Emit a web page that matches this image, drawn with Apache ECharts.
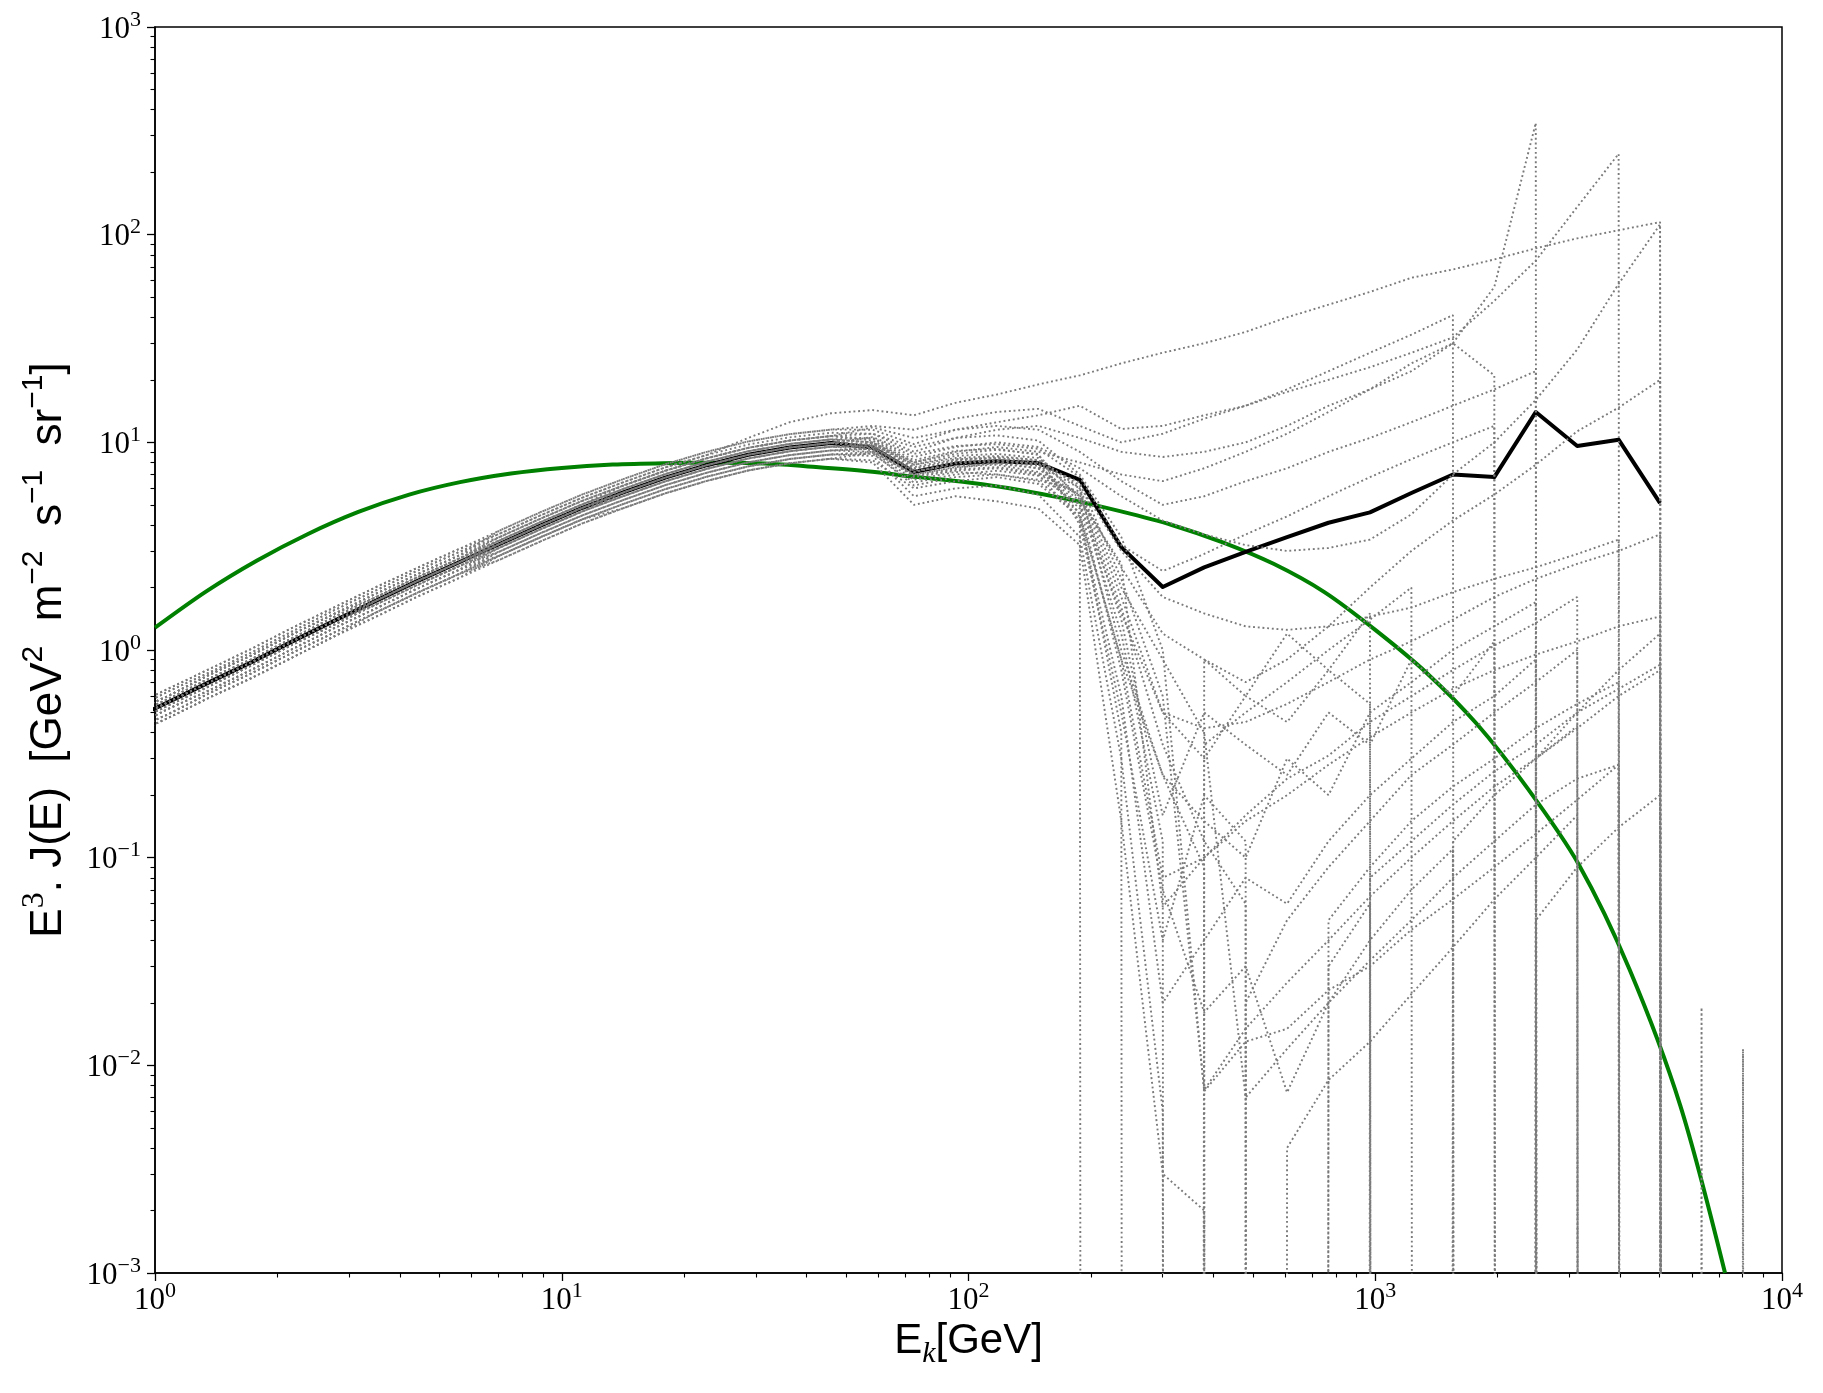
<!DOCTYPE html>
<html>
<head>
<meta charset="utf-8">
<title>E3 J(E) spectrum</title>
<script src="https://cdn.jsdelivr.net/npm/echarts@6/dist/echarts.min.js"></script>
<style>
  html, body { margin: 0; padding: 0; background: #fff; }
  #main { width: 1823px; height: 1393px; }
</style>
</head>
<body>
<div id="main"></div>
<script>
// energy grid of the realisations [GeV]
var energy = [0.851, 1.076, 1.361, 1.721, 2.176, 2.751, 3.478, 4.398, 5.561, 7.033,
  8.892, 11.24, 14.22, 17.97, 22.73, 28.74, 36.33, 45.94, 58.09, 73.45,
  92.90, 117.5, 148.5, 187.8, 237.5, 300.3, 379.7, 480.1, 607.0, 767.5,
  970.5, 1227, 1552, 1962, 2481, 3137, 3966, 5015, 6342, 8019, 10139];

// single realisations (0 = no flux in that bin)
var run01 = [0.50,0.63,0.78,0.97,1.23,1.55,1.93,2.40,2.95,3.63,4.46,5.42,6.44,7.57,8.69,10.5,12.5,13.8, 14.3,13.5,15.5,17,19,21, 24,27,30,34,40,46,53,62,68,76,86,96,105,115,0,0,0];
var run02 = [0.52,0.65,0.81,1.01,1.28,1.60,2.00,2.48,3.05,3.76,4.62,5.61,6.67,7.84,9.0,10.1,10.95,11.52, 11.5,9.8,11.5,12.5,13.5,15, 11.6,12,13.5,15,17.5,20,23,27,32,48,75,136,245,0,0,0,0];
var run03 = [0.49,0.60,0.76,0.94,1.19,1.49,1.86,2.31,2.84,3.50,4.30,5.23,6.21,7.30,8.38,9.41,10.2,10.72, 11,9,10.5,11.5,12,10.5, 9,8.5,9,10,12,15,18,22,30,56,345,0,0,0,0,0,0];
var run04 = [0.47,0.58,0.73,0.90,1.14,1.44,1.79,2.23,2.74,3.37,4.14,5.03,5.98,7.03,8.07,9.06,9.82,10.33, 10.5,8.5,9.5,10,9.5,7.5, 5.5,4.2,3.6,3.2,3.0,3.1,3.4,4.5,7,10,16,28,58,112,0,0,0];
var run05 = [0.43,0.54,0.67,0.84,1.06,1.32,1.65,2.05,2.52,3.11,3.82,4.65,5.52,6.49,7.45,8.36,9.06,9.53, 9.2,7,7.5,8,7.5,5.5, 2.5,1.2,0.9,0.7,0.9,1.3,2,3,4.2,5.6,7.8,11.3,14.7,20,0,0,0];
var run06 = [0.49,0.60,0.76,0.94,1.19,1.49,1.86,2.31,2.84,3.76,4.62,5.61,6.67,7.84,9.0,10.1,10.95,11.52, 12,11.5,13,14,14.5,12, 10,11,13,15,18,22,27,33,41,0,0,0,0,0,0,0,0];
var run07 = [0.45,0.56,0.70,0.87,1.10,1.38,1.72,2.14,2.63,3.37,4.14,5.03,5.98,7.03,8.07,9.06,9.82,10.33, 10,8,9,9.5,9,8, 7,6.5,7.5,9,11,14,18,24,30,21,0,0,0,0,0,0,0];
var run08 = [0.41,0.52,0.64,0.80,1.01,1.27,1.58,1.97,2.42,2.98,3.66,4.45,5.29,6.22,7.14,8.01,8.68,9.14, 9.4,7.4,8.2,8.5,8.2,6.2, 3.0,1.8,1.5,1.3,1.25,1.3,1.45,1.6,1.9,2.2,2.5,2.9,3.4,0,0,0,0];
var run09 = [0.40,0.49,0.62,0.77,0.97,1.21,1.51,1.88,2.31,2.85,3.50,4.26,5.06,5.95,6.83,7.66,8.31,8.74, 8.8,6.4,7.0,7.3,6.9,5.0, 1.5,0.5,0.42,0.45,0.55,0.7,0.9,1.1,1.4,1.8,2.2,2.6,3.0,3.6,0,0,0];
var run10 = [0.38,0.47,0.59,0.73,0.92,1.16,1.44,1.80,2.21,2.72,3.34,4.07,4.83,5.68,6.52,7.32,7.93,8.34, 8.2,6.0,6.5,6.8,6.3,4.4, 0.9,0.08,0.1,0.15,0.2,0.28,0.38,0.5,0.65,0.8,0.95,1.1,1.3,1.45,0,0,0];
var run11 = [0.41,0.52,0.64,0.80,1.01,1.27,1.58,1.97,2.42,2.85,3.50,4.26,5.06,5.95,6.83,7.66,8.31,8.74, 9.0,7.0,7.6,7.8,7.2,4.8, 0,0,0.35,0.5,0.7,1.0,1.4,2.0,0,0,0,0,0,0,0,0,0];
var run12 = [0.43,0.54,0.67,0.84,1.06,1.32,1.65,2.05,2.52,2.98,3.66,4.45,5.29,6.22,7.14,8.01,8.68,9.14, 9.3,6.8,7.3,7.5,7.0,4.2, 0.6,0.02,0.04,0.08,0.06,0.12,0.2,0.3,0.45,0.6,0.9,0,0,0,0.019,0,0];
var run13 = [0.45,0.56,0.70,0.87,1.10,1.38,1.72,2.14,2.63,3.11,3.82,4.65,5.52,6.49,7.45,8.36,9.06,9.53, 9.6,7.2,7.9,8.1,7.7,5.2, 1.2,0.12,0,0.02,0.05,0.09,0.15,0.25,0.35,0.5,0.7,1.0,0,0,0,0,0];
var run14 = [0.47,0.58,0.73,0.90,1.14,1.44,1.79,2.23,2.74,3.24,3.98,4.84,5.75,6.76,7.76,8.71,9.44,9.93, 9.9,7.6,8.3,8.4,8.0,4.5, 0.9,0.25,0.15,0.1,0.3,0.2,0.5,0.7,1.0,1.3,1.7,0,0,0,0,0,0];
var run15 = [0.40,0.49,0.62,0.77,0.97,1.21,1.51,1.88,2.31,2.98,3.66,4.45,5.29,6.22,7.14,8.01,8.68,9.14, 9.0,6.6,7.2,7.0,6.6,5.8, 1.8,0.5,0.3,0.6,0.45,0.8,0.55,0,0.12,0.2,0.3,0.42,0.6,0.8,0,0,0];
var run16 = [0.38,0.47,0.59,0.73,0.92,1.16,1.44,1.80,2.21,2.85,3.50,4.26,5.06,5.95,6.83,7.66,8.31,8.74, 8.6,5.5,6.0,6.2,5.6,3.5, 0.3,0.006,0,0,0.004,0.0085,0.013,0.022,0.037,0.063,0.1,0.16,0,0,0,0.012,0];
var run17 = [0.50,0.63,0.78,0.97,1.23,1.55,1.93,2.40,2.95,3.50,4.30,5.23,6.21,7.30,8.38,9.41,10.2,10.72, 10.2,8.0,8.8,9.2,8.8,4.0, 0.5,0.04,0.2,0.12,0,0.05,0.09,0.15,0.22,0.3,0.42,0.55,0.7,0,0,0,0];
var run18 = [0.52,0.65,0.81,1.01,1.28,1.60,2.00,2.48,3.05,3.63,4.46,5.42,6.44,7.57,8.69,9.76,10.57,11.12, 11.0,9.5,10.5,10.8,10.2,7.0, 3.5,1.0,0.0075,0.013,0.015,0.023,0.03,0.045,0.063,0.09,0.13,0.19,0.28,0,0,0,0];
var run19 = [0.49,0.60,0.76,0.94,1.19,1.49,1.86,2.31,2.84,3.37,4.14,5.03,5.98,7.03,8.07,9.06,9.82,10.33, 10.0,7.8,8.6,8.8,8.4,6.0, 2.0,0.9,0.4,0.007,0.012,0.02,0.032,0.05,0.08,0.12,0.18,0.24,0.28,0,0,0,0];
var run20 = [0.45,0.56,0.70,0.87,1.10,1.38,1.72,2.14,2.63,3.24,3.98,4.84,5.75,6.76,7.76,8.71,9.44,9.93, 9.4,7.2,8.0,8.2,7.9,6.4, 2.2,0.6,0.0076,0.015,0.025,0.04,0.065,0.1,0.15,0.22,0.3,0.43,0,0,0,0,0];
var run21 = [0.43,0.54,0.67,0.84,1.06,1.32,1.65,2.05,2.52,3.24,3.98,4.84,5.75,6.76,7.76,8.71,9.44,9.93, 10.6,8.8,9.6,9.8,9.3,6.8, 3.2,2.4,2.9,3.6,4.4,5.5,6.8,8.3,10,12,0,0,0,0,0,0,0];
var run22 = [0.47,0.58,0.73,0.90,1.14,1.44,1.79,2.23,2.74,3.50,4.30,5.23,6.21,7.30,8.38,9.41,10.2,10.72, 11.8,10.5,11.5,12,11.5,9, 6.5,5.0,5.5,6.5,7.5,9,10.5,12.5,15,18,22,0,0,0,0,0,0];
var run23 = [0.41,0.52,0.64,0.80,1.01,1.27,1.58,1.97,2.42,3.11,3.82,4.65,5.52,6.49,7.45,8.36,9.06,9.53, 9.8,7.8,8.4,8.6,8.2,5.5, 1.6,0.35,0.12,0.06,0,0,0.08,0.12,0.18,0.26,0.35,0.5,0.65,0.85,0,0,0];
var run24 = [0.40,0.49,0.62,0.77,0.97,1.21,1.51,1.88,2.31,2.72,3.34,4.07,4.83,5.68,6.52,7.32,7.93,8.34, 8.0,5.0,5.5,5.2,4.8,3.2, 0.15,0.003,0.002,0,0,0,0,0,0,0,0,0,0,0,0,0,0];
var run25 = [0.43,0.54,0.67,0.84,1.06,1.32,1.72,2.14,2.63,3.24,3.98,4.84,5.98,7.03,8.07,9.06,9.82,10.33, 9.1,6.9,7.4,7.6,7.1,5.6, 1.4,0.16,0.5,0.35,0.25,0.5,0.35,0.9,0.6,1.1,0,0,0,0,0,0,0];
var run26 = [0.47,0.58,0.73,0.90,1.14,1.44,1.72,2.14,2.63,3.24,3.98,4.84,5.52,6.49,7.45,8.36,9.06,9.53, 9.5,7.3,7.7,7.9,7.5,5.0, 0.8,0.07,0.018,0.03,0.0074,0.02,0.04,0.07,0.11,0,0.05,0.09,0.14,0.2,0,0,0];
var run27 = [0.49,0.60,0.76,0.94,1.19,1.49,1.79,2.23,2.74,3.37,4.14,5.03,6.21,7.30,8.38,9.41,10.2,10.72, 10.4,8.2,9.1,9.3,8.7,5.3, 2.6,0.058,0.1,0.16,0.24,0.31,0.45,0.6,0.8,1.05,1.35,1.8,0,0,0,0,0];
var run28 = [0.38,0.47,0.59,0.73,0.92,1.16,1.51,1.88,2.31,2.85,3.50,4.26,4.83,5.68,6.52,7.32,7.93,8.34, 8.9,6.2,6.8,7.0,6.5,4.6, 0.4,0,0.9,0.6,1.2,0.8,1.5,0,0,0,0.3,0.5,0.8,1.2,0,0,0];
var run29 = [0.45,0.56,0.70,0.87,1.10,1.38,1.65,2.05,2.52,3.11,3.82,4.65,5.75,6.76,7.76,8.71,9.44,9.93, 9.7,7.5,8.1,8.3,7.8,6.0, 1.0,0.25,0.09,0,0,0.03,0.06,0,0,0,0,0,0,0,0,0,0];

var runs = [run01, run02, run03, run04, run05, run06, run07, run08, run09, run10,
  run11, run12, run13, run14, run15, run16, run17, run18, run19, run20,
  run21, run22, run23, run24, run25, run26, run27, run28, run29];

// mean of the realisations (black)
var meanFlux = [0.45,0.56,0.70,0.87,1.10,1.38,1.72,2.14,2.63,3.24,3.98,4.84,5.75,6.76,7.76,8.71,9.44,9.93,
  9.44,7.2,7.9,8.1,7.95,6.6, 3.13,2.01,2.5,2.97,3.5,4.1,4.6,5.7,7.0,6.8,14.0,9.6,10.3,5.1];

// smooth model (green)
var modelE = [1, 1.334, 1.778, 2.371, 3.162, 4.217, 5.623, 7.499, 10, 13.34, 17.78, 23.71, 31.62,
  42.17, 56.23, 74.99, 100, 133.4, 177.8, 237.1, 316.2, 421.7, 562.3, 749.9, 1000, 1334, 1778,
  2371, 3162, 4217, 5623, 7244];
var modelFlux = [1.28, 1.91, 2.69, 3.61, 4.62, 5.6, 6.43, 7.08, 7.53, 7.82, 7.94, 7.97, 7.9,
  7.6, 7.25, 6.8, 6.4, 5.9, 5.3, 4.65, 4.0, 3.3, 2.6, 1.9, 1.25, 0.78, 0.44,
  0.215, 0.093, 0.029, 0.0064, 0.001];

var xTicks = [1, 10, 100, 1000, 10000];
var yTicks = [0.001, 0.01, 0.1, 1, 10, 100, 1000];

var ZERO = 1e-300; // zeros are clipped like matplotlib does on a log axis

function minorTicks(lo, hi) {
  var out = [];
  for (var p = lo; p < hi; p++) {
    for (var m = 2; m < 10; m++) out.push(m * Math.pow(10, p));
  }
  return out;
}

function pairs(xs, ys) {
  var res = [];
  for (var i = 0; i < ys.length; i++) {
    res.push([xs[i], ys[i] > 0 ? ys[i] : ZERO]);
  }
  return res;
}

function powLabel(value) {
  var e = Math.round(Math.log(value) / Math.LN10);
  var s = e < 0 ? '\u2212' + (-e) : '' + e;
  return '{b|10}{e|' + s + '}';
}

var tickRich = {
  b: { fontFamily: 'Liberation Serif', fontSize: 31, lineHeight: 36, color: '#000', verticalAlign: 'bottom' },
  e: { fontFamily: 'Liberation Serif', fontSize: 22, lineHeight: 22, color: '#000', verticalAlign: 'top' }
};

var myChart = echarts.init(document.getElementById('main'), null, { renderer: 'canvas' });

var series = [];
series.push({
  name: 'model',
  type: 'line',
  data: pairs(modelE, modelFlux),
  symbol: 'none',
  smooth: 0.3,
  silent: true,
  clip: true,
  z: 1,
  lineStyle: { color: '#008000', width: 4 }
});
series.push({
  name: 'mean',
  type: 'line',
  data: pairs(energy, meanFlux),
  symbol: 'none',
  silent: true,
  clip: true,
  z: 2,
  lineStyle: { color: '#000', width: 4, join: 'round' }
});
runs.forEach(function (r, i) {
  series.push({
    name: 'run' + (i + 1),
    type: 'line',
    data: pairs(energy, r),
    symbol: 'none',
    silent: true,
    clip: true,
    z: 3,
    lineStyle: { color: '#7a7a7a', width: 1.9, type: [1.9, 2.8], cap: 'butt' }
  });
});

var option = {
  animation: false,
  backgroundColor: '#fff',
  grid: {
    left: 155, right: 41, top: 27, bottom: 120,
    show: true, borderColor: '#000', borderWidth: 1.5,
    outerBoundsMode: 'none'
  },
  xAxis: [
    {
      type: 'log', logBase: 10, min: 1, max: 10000, position: 'bottom',
      axisLine: { show: true, lineStyle: { color: '#000', width: 1.5 } },
      axisTick: { show: true, customValues: xTicks, length: 8, lineStyle: { color: '#000', width: 1.3 } },
      axisLabel: { customValues: xTicks, formatter: powLabel, rich: tickRich, margin: 7, showMinLabel: true, showMaxLabel: true },
      splitLine: { show: false },
      name: '{t|E}{s|k}{t|[GeV]}',
      nameLocation: 'middle',
      nameGap: 46,
      nameTextStyle: {
        rich: {
          t: { fontFamily: 'Liberation Sans', fontSize: 42, lineHeight: 48, color: '#000', verticalAlign: 'top' },
          s: { fontFamily: 'Liberation Serif', fontStyle: 'italic', fontSize: 30, lineHeight: 30, color: '#000', verticalAlign: 'bottom' }
        }
      }
    },
    {
      type: 'log', logBase: 10, min: 1, max: 10000, position: 'bottom',
      axisLine: { show: false },
      axisTick: { show: true, customValues: minorTicks(0, 4), length: 4.5, lineStyle: { color: '#000', width: 1.1 } },
      axisLabel: { show: false },
      splitLine: { show: false }
    }
  ],
  yAxis: [
    {
      type: 'log', logBase: 10, min: 0.001, max: 1000, position: 'left',
      axisLine: { show: true, lineStyle: { color: '#000', width: 1.5 } },
      axisTick: { show: true, customValues: yTicks, length: 8, lineStyle: { color: '#000', width: 1.3 } },
      axisLabel: { customValues: yTicks, formatter: powLabel, rich: tickRich, margin: 14, showMinLabel: true, showMaxLabel: true },
      splitLine: { show: false },
      name: '{t|E}{q|3}{t|. J(E)  [GeV}{p|2}{t|  m}{p|\u22122}{t|  s}{p|\u22121}{t|  sr}{p|\u22121}{t|]}',
      nameLocation: 'middle',
      nameGap: 84,
      nameRotate: 90,
      nameTextStyle: {
        rich: {
          t: { fontFamily: 'Liberation Sans', fontSize: 44, lineHeight: 52, color: '#000', verticalAlign: 'bottom' },
          p: { fontFamily: 'Liberation Sans', fontSize: 30, lineHeight: 30, color: '#000', verticalAlign: 'top' },
          q: { fontFamily: 'Liberation Serif', fontSize: 32, lineHeight: 32, color: '#000', verticalAlign: 'top' }
        }
      }
    },
    {
      type: 'log', logBase: 10, min: 0.001, max: 1000, position: 'left',
      axisLine: { show: false },
      axisTick: { show: true, customValues: minorTicks(-3, 3), length: 4.5, lineStyle: { color: '#000', width: 1.1 } },
      axisLabel: { show: false },
      splitLine: { show: false }
    }
  ],
  series: series
};

myChart.setOption(option);
window.addEventListener('resize', function () {
  myChart.resize();
});
</script>
</body>
</html>
